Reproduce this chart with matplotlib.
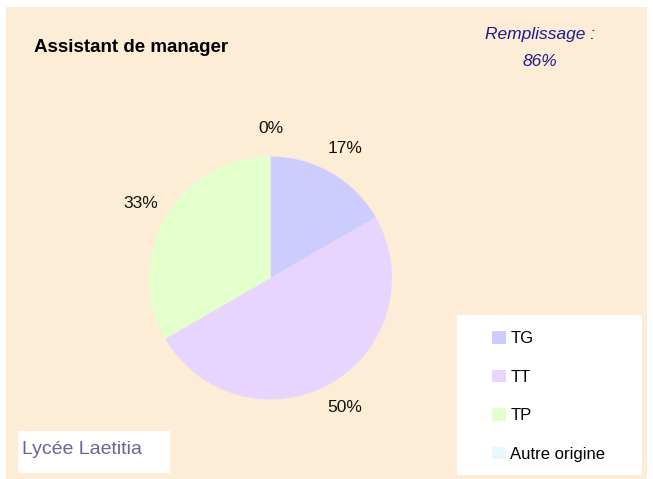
import matplotlib
matplotlib.use('Agg')
import matplotlib.pyplot as plt
from matplotlib.patches import Rectangle

plt.rcParams['font.family'] = ['Liberation Sans', 'DejaVu Sans']

# data
title = 'Assistant de manager'
categories = ['TG', 'TT', 'TP', 'Autre origine']
counts = [1, 3, 2, 0]
colors = ['#CCCCFF', '#E8D5FF', '#E2FFCC', '#E8F8FF']
fill_rate = '86%'
school = 'Lycée Laetitia'

W, H = 653, 479
fig = plt.figure(figsize=(W / 100, H / 100), dpi=100, facecolor='white')


def px(x, y):
    # pixel coords (top-left origin) -> figure fraction
    return x / W, 1 - y / H


bg = Rectangle(px(6, 479), 641 / W, 472 / H, transform=fig.transFigure,
               facecolor='#FEEDD6', edgecolor='none', zorder=-5)
fig.patches.append(bg)

# pie
cx, cy, r = 270.5, 278, 121.5
ax = fig.add_axes([(cx - r) / W, 1 - (cy + r) / H, 2 * r / W, 2 * r / H])
ax.set_zorder(1)
ax.set_facecolor('none')
wedges, _, autotexts = ax.pie(counts, colors=colors, startangle=90, counterclock=False,
                              autopct='%.0f%%', pctdistance=1.23, radius=1,
                              wedgeprops=dict(linewidth=0),
                              textprops=dict(fontsize=12.5, color='#111111'))
for t in autotexts:
    t.set_clip_on(False)
ax.set_xlim(-1, 1)
ax.set_ylim(-1, 1)
ax.axis('off')

fig.text(*px(34, 47), title, fontsize=13.5, fontweight='bold', va='center', ha='left')
fig.text(*px(540, 34), 'Remplissage :', fontsize=12.5, style='italic',
         color='#1C1C8A', ha='center', va='center')
fig.text(*px(540, 61), fill_rate, fontsize=12.5, style='italic',
         color='#1C1C8A', ha='center', va='center')

# legend box
fig.patches.append(Rectangle(px(457, 475), 185 / W, 160 / H, transform=fig.transFigure,
                             facecolor='white', edgecolor='none', zorder=1))
leg = fig.legend(wedges, categories, loc='upper left', bbox_to_anchor=px(492, 331),
                 frameon=False, fontsize=12, borderpad=0, borderaxespad=0,
                 handlelength=0.82, handleheight=0.8, handletextpad=0.28,
                 labelspacing=1.4)
leg.set_zorder(2)

# school box
fig.patches.append(Rectangle(px(18, 473), 152 / W, 42 / H, transform=fig.transFigure,
                             facecolor='white', edgecolor='none', zorder=1))
fig.text(*px(22, 449), school, fontsize=14, color='#67679A', ha='left', va='center',
         zorder=2)

fig.savefig('out.png', dpi=100, facecolor='white')
